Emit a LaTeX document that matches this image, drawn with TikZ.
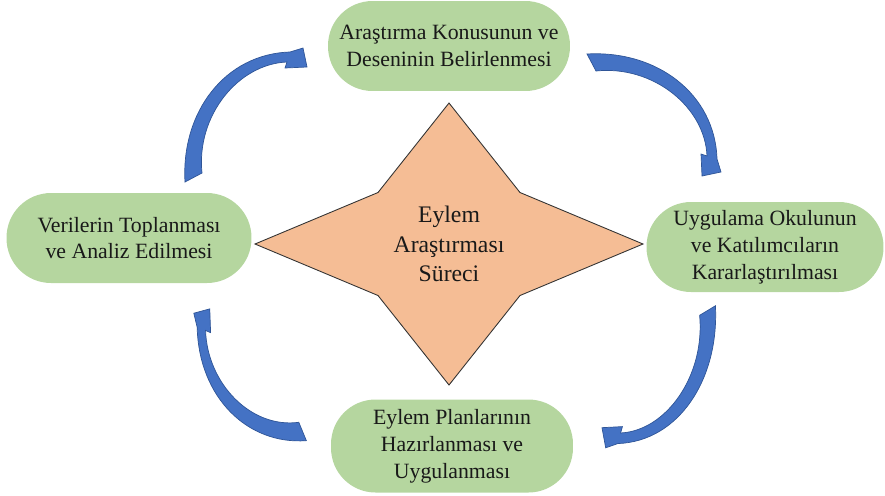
\documentclass[tikz,border=0pt]{standalone}
\usepackage{fontspec}
\setmainfont{Liberation Serif}
\usepackage{tikz}

\definecolor{stagegreen}{HTML}{B5D69F}
\definecolor{starorange}{HTML}{F5BD95}
\definecolor{arcblue}{HTML}{4472C4}
\definecolor{arcedge}{HTML}{2F5597}

\begin{document}
\begin{tikzpicture}[x=0.02cm, y=-0.02cm,
        stage/.style={fill=stagegreen, rounded corners=0.89cm, minimum height=1.8cm,
            minimum width=4.84cm, align=center, text=black!90,
            font=\fontsize{12.4}{15.3}\selectfont},
        core/.style={align=center, text=black!90, font=\fontsize{13.5}{17}\selectfont},
        bluearc/.pic={
            \filldraw[fill=arcblue, draw=arcedge, line width=0.4pt]
                (-8,4) .. controls (-12,-66) and (32,-124) .. (97,-126)
                -- (110,-130) -- (114,-111) -- (92,-110) -- (94,-116)
                .. controls (45,-114) and (3,-62) .. (9,-5) -- cycle;
        }]
            \useasboundingbox (0,0) rectangle (885,495);
            \filldraw[fill=starorange, draw=black!80, line width=0.5pt]
                (255,244) -- (378,192.5) -- (449,103) -- (520,192.5) -- (643,244)
                -- (520,295.5) -- (449,385) -- (378,295.5) -- cycle;
            \node[core] (surec) at (449,244) {Eylem\\Araştırması\\Süreci};
            \node[stage] (konu) at (449,46) {Araştırma Konusunun ve\\Deseninin Belirlenmesi};
            \node[stage, minimum width=4.74cm] (okul) at (765,247) {Uygulama Okulunun\\ve Katılımcıların\\Kararlaştırılması};
            \node[stage, minimum height=1.86cm] (plan) at (452,446) {Eylem Planlarının\\Hazırlanması ve\\Uygulanması};
            \node[stage, minimum width=4.9cm] (veri) at (129,238) {Verilerin Toplanması\\ve Analiz Edilmesi};
            \pic at (193,178) {bluearc};
            \pic[rotate=-90] at (591,62) {bluearc};
            \pic[rotate=180, xscale=0.93, yscale=1.06] at (708,310) {bluearc};
            \pic[rotate=90, xscale=1.08, yscale=0.84] at (303,432) {bluearc};
        \end{tikzpicture}
\end{document}
